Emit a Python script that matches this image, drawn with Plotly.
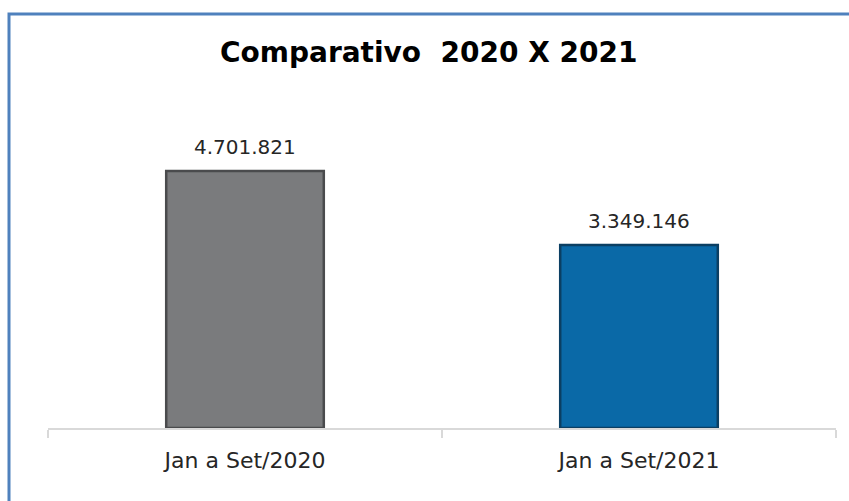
import plotly.graph_objects as go

categories = ["Jan a Set/2020", "Jan a Set/2021"]
values = [4701821, 3349146]
bar_colors = ["#7a7b7d", "#0a69a7"]
edge_colors = ["#4a4b4d", "#0b3f63"]

W, H = 849, 501
ml, mr, mt, mb = 48, 13, 100, 73
pw, ph = W - ml - mr, H - mt - mb
FONT = "'DejaVu Sans', sans-serif"

fig = go.Figure()
fig.add_trace(go.Bar(
    x=categories, y=values,
    marker=dict(color=bar_colors, line=dict(color=edge_colors, width=2.5)),
    hoverinfo="skip",
))

for c, v in zip(categories, values):
    fig.add_annotation(x=c, y=v, text=f"{v:,}".replace(",", "."),
                       showarrow=False, yanchor="bottom", yshift=10,
                       font=dict(family=FONT, size=20, color="#262626"))

def px_x(p):
    return (p - ml) / pw

def px_y(p):
    return (H - mb - p) / ph

fig.add_shape(type="rect", xref="paper", yref="paper",
              x0=px_x(9), x1=px_x(900), y0=px_y(560), y1=px_y(14),
              line=dict(color="#4f81bd", width=3), fillcolor="rgba(0,0,0,0)",
              layer="above")

fig.update_layout(
    width=W, height=H,
    margin=dict(l=ml, r=mr, t=mt, b=mb),
    paper_bgcolor="white", plot_bgcolor="white",
    separators=",.",
    showlegend=False,
    bargap=0.6,
    title=dict(text="<b>Comparativo  2020 X 2021</b>", x=0.505, xanchor="center",
               y=1 - 52 / H, yanchor="middle", yref="container",
               font=dict(family=FONT, size=28, color="#000000")),
    xaxis=dict(showline=True, linecolor="#d9d9d9", linewidth=2,
               ticks="outside", tickson="boundaries", ticklen=8, tickcolor="#d9d9d9", tickwidth=2,
               ticklabelstandoff=12,
               tickfont=dict(family=FONT, size=22, color="#262626"),
               showgrid=False),
    yaxis=dict(visible=False, range=[0, 6000000], showgrid=False, zeroline=False),
)

fig.write_html("out.html", config={"displayModeBar": False},
               post_script="document.body.style.margin='0px';document.body.style.overflow='hidden';")
